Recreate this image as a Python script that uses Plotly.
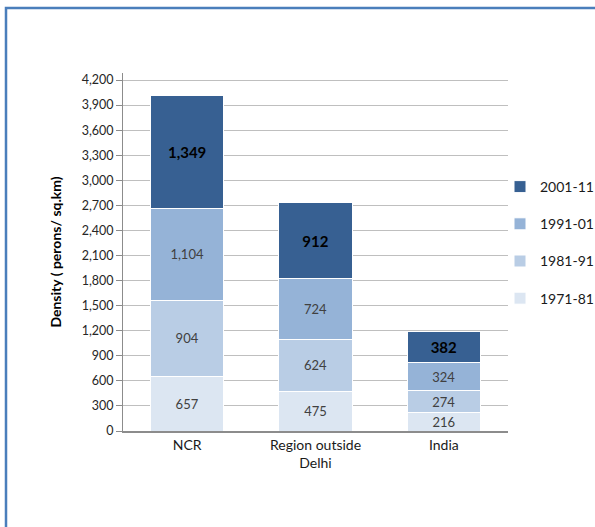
import plotly.graph_objects as go

categories = ["NCR", "Region outside<br>Delhi", "India"]
periods = ["1971-81", "1981-91", "1991-01", "2001-11"]
v_1971_81 = [657, 475, 216]
v_1981_91 = [904, 624, 274]
v_1991_01 = [1104, 724, 324]
v_2001_11 = [1349, 912, 382]
tick_values = list(range(0, 4201, 300))

series = [v_1971_81, v_1981_91, v_1991_01, v_2001_11]
colors = ["#DCE6F2", "#B9CDE5", "#95B3D7", "#376092"]
FONT = "Lato"

fig = go.Figure()
for i, (name, vals, col) in enumerate(zip(periods, series, colors)):
    bold = name == "2001-11"
    fig.add_trace(go.Bar(
        x=categories, y=vals, name=name, legendgroup=name,
        legendrank=100 - i,
        marker=dict(color=col, line=dict(color="white", width=1)),
        texttemplate="<b>%{y:,}</b>" if bold else "%{y:,}",
        textposition="inside", insidetextanchor="middle",
        textangle=0, constraintext="none",
        textfont=dict(family=FONT, size=15 if bold else 13,
                      color="#000000" if bold else "#404040"),
        hoverinfo="skip",
    ))

# plot area: x 123..508, y 73..431 in a 595x527 page
W, H = 595, 527
L, R, T, B = 123, 508, 73, 431
pw, ph = R - L, B - T
def px_x(x): return (x - L) / pw
def px_y(y): return (B - y) / ph

fig.update_layout(
    width=W, height=H,
    margin=dict(l=L, r=W - R, t=T, b=H - B, autoexpand=False),
    barmode="stack", bargap=0.43,
    paper_bgcolor="white", plot_bgcolor="white",
    font=dict(family=FONT, size=12, color="#262626"),
    showlegend=True,
    legend=dict(x=px_x(500), y=px_y(171), xanchor="left", yanchor="top",
                traceorder="grouped", tracegroupgap=16,
                font=dict(family=FONT, size=14, color="#1a1a1a"),
                itemwidth=30, bgcolor="rgba(0,0,0,0)"),
    xaxis=dict(showline=True, linecolor="#8C8C8C", linewidth=2,
               ticks="", tickfont=dict(family=FONT, size=14, color="#1a1a1a"),
               fixedrange=True),
    yaxis=dict(range=[0, 4284], tickvals=tick_values, tickformat=",",
               showgrid=True, gridcolor="#BFBFBF", gridwidth=1.3,
               showline=True, linecolor="#8C8C8C", linewidth=1,
               ticks="outside", ticklen=6, tickcolor="#8C8C8C",
               tickfont=dict(family=FONT, size=12.5, color="#262626"),
               title=dict(text="<b>Density ( perons/ sq.km)</b>",
                          font=dict(family=FONT, size=14, color="#000000"),
                          standoff=16),
               zeroline=False),
    shapes=[dict(type="rect", xref="paper", yref="paper",
                 x0=px_x(6), x1=px_x(620), y0=px_y(8), y1=px_y(560),
                 line=dict(color="#4A7EBB", width=2.5), fillcolor="rgba(0,0,0,0)",
                 layer="above")],
)

fig.write_html("out.html")
